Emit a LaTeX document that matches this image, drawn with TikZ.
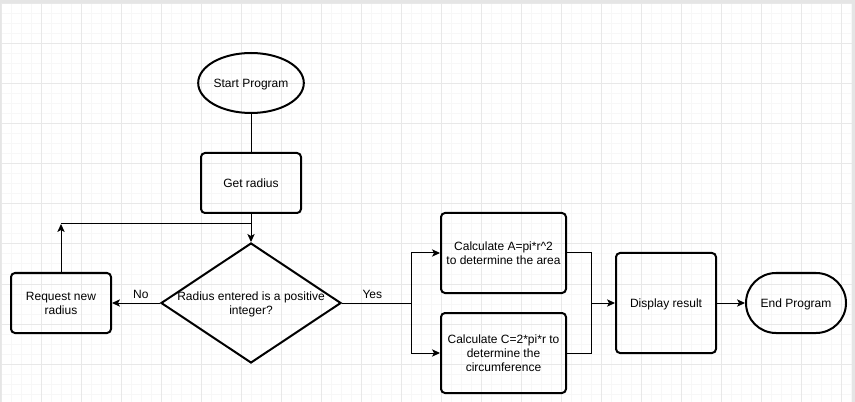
\documentclass[tikz,border=0pt]{standalone}
\usepackage{fontspec}
\setmainfont{Liberation Sans}
\usetikzlibrary{shapes.geometric,arrows.meta}
\begin{document}
\begin{tikzpicture}
		[x=0.75pt,y=-0.75pt,
		font=\fontsize{9}{10.5}\selectfont,
		every node/.style={text depth=0pt},
		terminal/.style={ellipse,draw,line width=1.5pt,inner sep=0pt,minimum width=75pt,minimum height=45pt},
		process/.style={rectangle,draw,line width=1.5pt,rounded corners=3pt,inner sep=0pt,align=center,minimum width=75pt,minimum height=45pt},
		decision/.style={diamond,draw,line width=1.5pt,inner sep=0pt,minimum width=135pt,minimum height=90pt},
		stopbox/.style={rectangle,draw,line width=1.5pt,rounded corners=22.5pt,inner sep=0pt,minimum width=75pt,minimum height=45pt},
		line/.style={-,line width=0.75pt},
		arrow/.style={-{Stealth[length=6pt,width=5.5pt,inset=1.5pt]},line width=0.75pt},
		arrowin/.style={{Stealth[length=6pt,width=5.5pt,inset=1.5pt]}-,line width=0.75pt},
		minor/.style={black!3,line width=0.75pt},
		major/.style={black!9,line width=0.75pt}]
		\useasboundingbox (0,0) rectangle (855,402);
		\fill[black!10] (0,0) rectangle (855,402);
		\fill[white] (1,3) rectangle (852,402);
		\foreach \gx in {11,21,...,851} \draw[minor] (\gx,3) -- (\gx,402);
		\foreach \gy in {14,24,...,394} \draw[minor] (1,\gy) -- (852,\gy);
		\foreach \gx in {1,41,...,841} \draw[major] (\gx,3) -- (\gx,402);
		\foreach \gy in {4,44,...,364} \draw[major] (1,\gy) -- (852,\gy);
		\node at (251,83) (start) [terminal] {Start Program};
		\node at (251,183) (radius) [process] {Get radius}
			edge [line] (start);
		\node at (251,303) (check) [decision,label={[align=center]center:Radius entered is a positive\\integer?}] {}
			edge [arrowin] (radius);
		\node at (61,303) (request) [process] {Request new\\radius}
			edge [arrowin] node[above,pos=0.6] {No} (check);
		\node at (503.5,253) (area) [process,minimum width=93.75pt,minimum height=60pt] {Calculate A=pi*r\textasciicircum2\\to determine the area};
		\node at (503.5,353) (circ) [process,minimum width=93.75pt,minimum height=60pt] {Calculate C=2*pi*r to\\determine the\\circumference};
		\node at (666,303) (display) [process,minimum height=75pt] {Display result};
		\node at (796,303) (stop) [stopbox] {End Program}
			edge [arrowin] (display);
		\coordinate (loop) at (251,224);
		\coordinate (split) at (411,303);
		\coordinate (merge) at (591,303);
		\draw[arrow] (request) -- (request |- loop);
		\draw[line] (request |- loop) -- (loop);
		\draw[line] (check) -- node[above,pos=0.44] {Yes} (split);
		\draw[arrow] (split) |- (area);
		\draw[arrow] (split) |- (circ);
		\draw[line] (area) -| (merge);
		\draw[line] (circ) -| (merge);
		\draw[arrow] (merge) -- (display);
	\end{tikzpicture}
\end{document}
